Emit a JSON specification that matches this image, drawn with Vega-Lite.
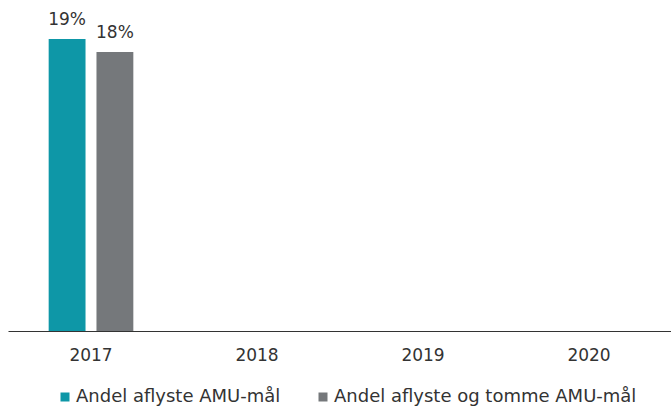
{
  "$schema": "https://vega.github.io/schema/vega-lite/v6.json",
  "width": 664,
  "height": 331,
  "autosize": "none",
  "padding": {"left": 8, "top": 0, "right": 0, "bottom": 75},
  "config": {"view": {"stroke": null}, "font": "DejaVu Sans"},
  "data": {
    "values": [
      {"year": "2017", "serie": "Andel aflyste AMU-mål", "value": 0.19},
      {"year": "2017", "serie": "Andel aflyste og tomme AMU-mål", "value": 0.1815},
      {"year": "2018", "serie": "Andel aflyste AMU-mål", "value": null},
      {"year": "2018", "serie": "Andel aflyste og tomme AMU-mål", "value": null},
      {"year": "2019", "serie": "Andel aflyste AMU-mål", "value": null},
      {"year": "2019", "serie": "Andel aflyste og tomme AMU-mål", "value": null},
      {"year": "2020", "serie": "Andel aflyste AMU-mål", "value": null},
      {"year": "2020", "serie": "Andel aflyste og tomme AMU-mål", "value": null}
    ]
  },
  "encoding": {
    "x": {
      "field": "year", "type": "nominal",
      "scale": {"domain": ["2017", "2018", "2019", "2020"], "paddingInner": 0.49, "paddingOuter": 0.245},
      "axis": {"title": null, "labelAngle": 0, "ticks": false, "domainColor": "#333333", "domainWidth": 1, "labelFontSize": 17, "labelColor": "#333333", "labelPadding": 16}
    },
    "xOffset": {"field": "serie", "type": "nominal", "scale": {"domain": ["Andel aflyste AMU-mål", "Andel aflyste og tomme AMU-mål"], "paddingInner": 0.229, "paddingOuter": 0}},
    "y": {
      "field": "value", "type": "quantitative",
      "scale": {"domain": [0, 0.2154]},
      "axis": null
    }
  },
  "layer": [
    {
      "mark": {"type": "bar"},
      "encoding": {
        "color": {
          "field": "serie", "type": "nominal",
          "scale": {"domain": ["Andel aflyste AMU-mål", "Andel aflyste og tomme AMU-mål"], "range": ["#0e97a7", "#75787b"]},
          "legend": {"title": null, "orient": "none", "legendX": 48, "legendY": 388, "direction": "horizontal", "symbolType": "square", "symbolSize": 81, "symbolStrokeWidth": 0, "labelFontSize": 18, "labelColor": "#333333", "labelLimit": 0, "columnPadding": 33, "labelOffset": 2, "padding": 0}
        }
      }
    },
    {
      "mark": {"type": "text", "baseline": "bottom", "dy": -10, "fontSize": 17, "color": "#333333"},
      "encoding": {
        "text": {"field": "value", "type": "quantitative", "format": ".0%"}
      }
    }
  ]
}
